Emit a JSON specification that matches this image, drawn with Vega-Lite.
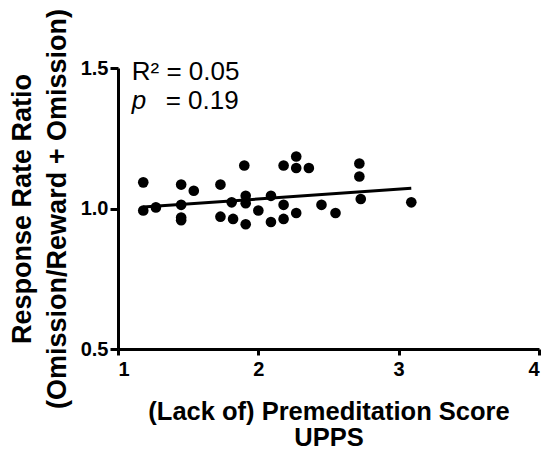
{
  "$schema": "https://vega.github.io/schema/vega-lite/v6.json",
  "width": 421,
  "height": 281,
  "autosize": "none",
  "padding": {"left": 118, "top": 68, "right": 4, "bottom": 105},
  "background": "white",
  "config": {
    "view": {"stroke": null},
    "font": "Liberation Sans",
    "axis": {
      "grid": false,
      "domainColor": "black",
      "domainWidth": 3,
      "tickColor": "black",
      "tickWidth": 3,
      "labelColor": "black",
      "labelFont": "Liberation Sans",
      "labelFontWeight": "bold",
      "labelFontSize": 20,
      "titleColor": "black",
      "titleFont": "Liberation Sans",
      "titleFontWeight": "bold",
      "titleFontSize": 26
    }
  },
  "datasets": {
    "points": [
      {"score": 1.18, "ratio": 1.093},
      {"score": 1.18, "ratio": 0.993},
      {"score": 1.27, "ratio": 1.004},
      {"score": 1.45, "ratio": 1.085},
      {"score": 1.54, "ratio": 1.063},
      {"score": 1.45, "ratio": 1.013},
      {"score": 1.45, "ratio": 0.968},
      {"score": 1.45, "ratio": 0.958},
      {"score": 1.73, "ratio": 1.085},
      {"score": 1.73, "ratio": 0.971},
      {"score": 1.81, "ratio": 1.022},
      {"score": 1.82, "ratio": 0.963},
      {"score": 1.90, "ratio": 1.153},
      {"score": 1.91, "ratio": 1.045},
      {"score": 1.91, "ratio": 1.019},
      {"score": 1.91, "ratio": 0.944},
      {"score": 2.00, "ratio": 0.993},
      {"score": 2.09, "ratio": 1.045},
      {"score": 2.09, "ratio": 0.952},
      {"score": 2.18, "ratio": 1.153},
      {"score": 2.18, "ratio": 1.013},
      {"score": 2.18, "ratio": 0.963},
      {"score": 2.27, "ratio": 1.185},
      {"score": 2.27, "ratio": 1.144},
      {"score": 2.27, "ratio": 0.984},
      {"score": 2.36, "ratio": 1.144},
      {"score": 2.45, "ratio": 1.013},
      {"score": 2.55, "ratio": 0.984},
      {"score": 2.72, "ratio": 1.160},
      {"score": 2.72, "ratio": 1.114},
      {"score": 2.73, "ratio": 1.034},
      {"score": 3.09, "ratio": 1.022}
    ],
    "fit": [
      {"score": 1.18, "ratio": 1.005},
      {"score": 3.09, "ratio": 1.072}
    ],
    "labels": [
      {"score": 1.098, "ratio": 1.487, "text": "R² = 0.05"},
      {"score": 1.34, "ratio": 1.381, "text": "= 0.19"}
    ],
    "italic": [
      {"score": 1.098, "ratio": 1.381, "text": "p"}
    ]
  },
  "layer": [
    {
      "data": {"name": "points"},
      "mark": {"type": "point", "filled": true, "color": "black", "opacity": 1, "size": 113},
      "encoding": {
        "x": {
          "field": "score", "type": "quantitative",
          "scale": {"domain": [1, 4], "nice": false, "zero": false},
          "axis": {
            "values": [1, 2, 3, 4], "format": "d", "tickSize": 6, "labelPadding": 4,
            "title": ["(Lack of) Premeditation Score", "UPPS"],
            "titleFontSize": 25.5, "titleLineHeight": 26, "titlePadding": 20
          }
        },
        "y": {
          "field": "ratio", "type": "quantitative",
          "scale": {"domain": [0.5, 1.5], "nice": false, "zero": false},
          "axis": {
            "values": [0.5, 1.0, 1.5], "format": ".1f", "tickSize": 8, "labelPadding": 2,
            "title": ["Response Rate Ratio", "(Omission/Reward + Omission)"],
            "titleFontSize": 27, "titleLineHeight": 35, "titlePadding": 9
          }
        }
      }
    },
    {
      "data": {"name": "fit"},
      "mark": {"type": "line", "color": "black", "strokeWidth": 3},
      "encoding": {
        "x": {"field": "score", "type": "quantitative"},
        "y": {"field": "ratio", "type": "quantitative"}
      }
    },
    {
      "data": {"name": "labels"},
      "mark": {"type": "text", "align": "left", "baseline": "middle", "fontSize": 26, "color": "black", "font": "Liberation Sans"},
      "encoding": {
        "x": {"field": "score", "type": "quantitative"},
        "y": {"field": "ratio", "type": "quantitative"},
        "text": {"field": "text"}
      }
    },
    {
      "data": {"name": "italic"},
      "mark": {"type": "text", "align": "left", "baseline": "middle", "fontSize": 26, "fontStyle": "italic", "color": "black", "font": "Liberation Sans"},
      "encoding": {
        "x": {"field": "score", "type": "quantitative"},
        "y": {"field": "ratio", "type": "quantitative"},
        "text": {"field": "text"}
      }
    }
  ]
}
